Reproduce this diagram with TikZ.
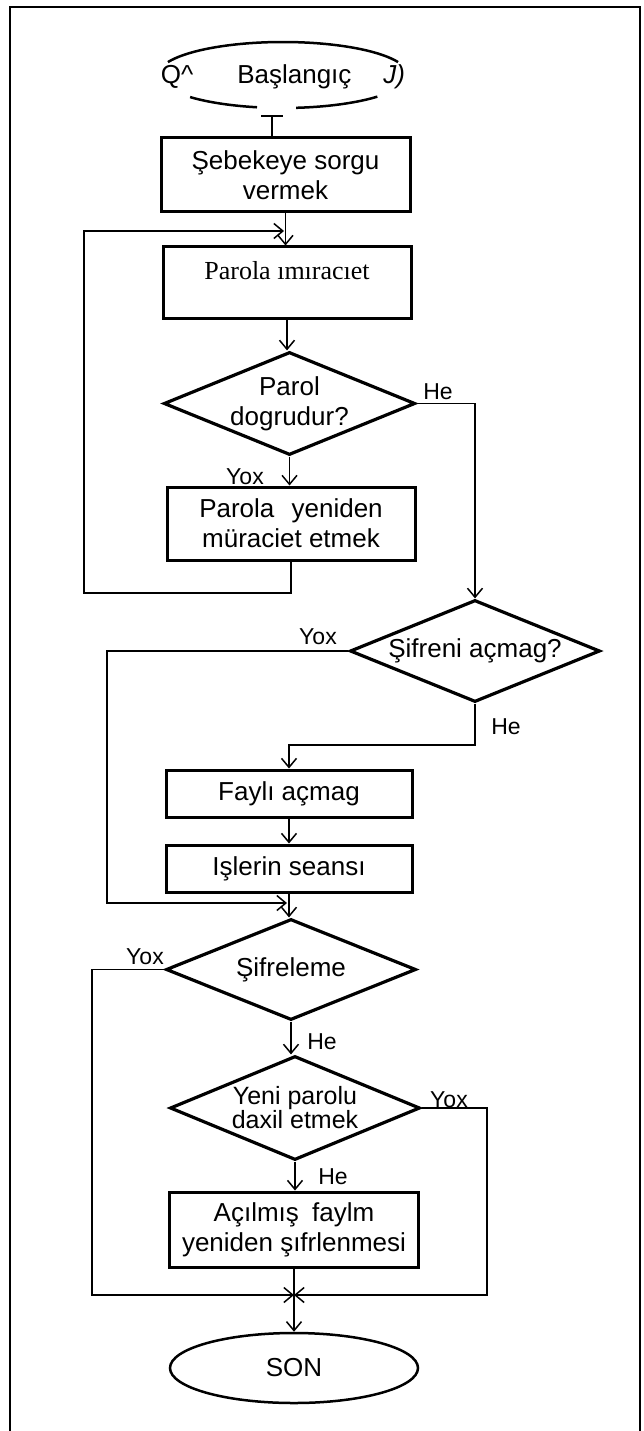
\documentclass[tikz,border=0pt]{standalone}
\usepackage{fontspec}
\setmainfont{Liberation Sans}
\newfontfamily\seriffam{Liberation Serif}
\usetikzlibrary{shapes.geometric,arrows.meta}
\begin{document}
\begin{tikzpicture}[x=1pt,y=-1pt,
  font=\fontsize{26}{30}\selectfont,
  box/.style={draw,line width=3pt,rectangle,inner sep=0pt,align=center},
  dec/.style={draw,line width=3.2pt,diamond,inner sep=0pt,align=center,aspect=2.45},
  conn/.style={line width=1.5pt},
  arr/.style={conn,-{Straight Barb[length=9pt,width=15pt,line width=1.5pt]}},
  lbl/.style={inner sep=0pt,font=\fontsize{23}{28}\selectfont},
]
\useasboundingbox (0,0) rectangle (643,1431);
% frame
\draw[line width=1.5pt] (10,1431) -- (10,7) -- (640,7) -- (640,1431);

% start terminal (broken outline)
\node[ellipse,inner sep=0pt] (start) at (283,77) {Q\textasciicircum\hspace{44pt}Başlangıç\hspace{32pt}\textit{J)}};
\draw[line width=2.5pt] plot[domain=23:157,smooth,samples=40,variable=\t] ({283+125*cos(\t)},{75-33*sin(\t)});
\draw[line width=2.5pt] plot[domain=222:258,smooth,samples=15,variable=\t] ({283+125*cos(\t)},{75-33*sin(\t)});
\draw[line width=2.5pt] plot[domain=276:319,smooth,samples=15,variable=\t] ({283+125*cos(\t)},{75-33*sin(\t)});
\coordinate (tbar) at (272,115);

% nodes
\node[box,minimum width=249pt,minimum height=74pt] (b1) at (285.5,175) {Şebekeye sorgu\\vermek};
\node[box,minimum width=248pt,text height=32pt,text depth=39pt,font=\seriffam\fontsize{26}{30}\selectfont] (b2) at (287,282.5) {Parola ımıracıet};
\node[dec,minimum width=251pt,minimum height=103pt] (d1) at (289.5,403.5) {Parol\\dogrudur?};
\node[box,minimum width=248pt,minimum height=73pt] (b3) at (291,523.5) {Parola\hspace{10pt} yeniden\\müraciet etmek};
\node[dec,minimum width=250pt,minimum height=102pt] (d2) at (475,651) {Şifreni açmag?};
\node[box,minimum width=246pt,minimum height=47pt] (b4) at (289,793.5) {Faylı açmag};
\node[box,minimum width=246pt,minimum height=47pt] (b5) at (289,868.5) {Işlerin seansı};
\node[dec,minimum width=250pt,minimum height=101pt] (d3) at (291,969.5) {Şifreleme};
\node[dec,minimum width=250pt,minimum height=104pt,font=\fontsize{25}{24}\selectfont] (d4) at (295,1108) {Yeni parolu\\daxil etmek};
\node[box,minimum width=249pt,minimum height=75pt] (b6) at (294,1229.5) {Açılmış\hspace{6pt} faylm\\yeniden şıfrlenmesi};
\node[draw,ellipse,line width=2.5pt,minimum width=248pt,minimum height=70pt,inner sep=0pt] (son) at (294,1368) {SON};

% labels
\node[lbl] (l1) at (438,392) {He};
\node[lbl] (l2) at (245,477) {Yox};
\node[lbl] (l3) at (318,637) {Yox};
\node[lbl] (l4) at (506,727) {He};
\node[lbl] (l5) at (145,957) {Yox};
\node[lbl] (l6) at (322,1042) {He};
\node[lbl] (l7) at (449,1100) {Yox};
\node[lbl] (l8) at (333,1177) {He};

% coordinates
\coordinate (lp1) at (84,593);
\coordinate (lp2) at (84,231);
\coordinate (lpe) at (284,231);
\coordinate (y2b) at (107,903);
\coordinate (y2e) at (287,903);
\coordinate (h2) at (475,745);
\coordinate (y3) at (92,1295);
\coordinate (y4) at (487,1295);
\coordinate (m) at (294,1295);

% connectors
\draw[conn,{Bar[width=22pt,line width=2.5pt]}-] (tbar) -- (tbar |- b1.north);
\draw[arr] (b1.south) -- (b1.south |- b2.north);
\draw[arr] (b3.south) |- (lp1) -- (lp2) -- (lpe);
\draw[arr] (b2.south) -- (b2.south |- d1.north);
\draw[arr] (d1.south) -- (d1.south |- b3.north);
\draw[arr] (d1.east) -| (d2.north);
\draw[arr] (d2.west) -| (y2b) -- (y2e);
\draw[arr] (d2.south) |- (b4.north |- h2) -- (b4.north);
\draw[arr] (b4.south) -- (b5.north);
\draw[arr] (b5.south) -- (b5.south |- d3.north);
\draw[arr] (d3.west) -| (y3) -- (m);
\draw[arr] (d3.south) -- (d3.south |- d4.north);
\draw[arr] (d4.east) -| (y4) -- (m);
\draw[arr] (d4.south) -- (d4.south |- b6.north);
\draw[arr] (b6.south) -- (son.north);
\end{tikzpicture}
\end{document}
